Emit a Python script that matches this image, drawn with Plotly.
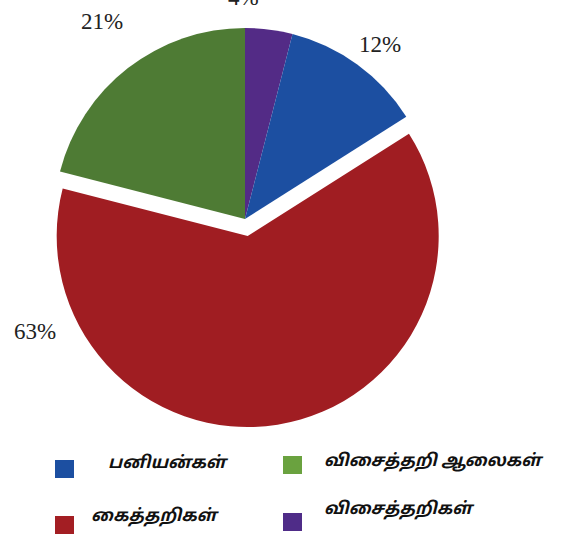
import plotly.graph_objects as go

# Share of textile units by type (percent)
labels = ["விசைத்தறிகள்", "பனியன்கள்", "கைத்தறிகள்", "விசைத்தறி ஆலைகள்"]
values = [4, 12, 63, 21]
slice_colors = ["#532B86", "#1C4FA1", "#A01D22", "#4E7B34"]
swatch_colors = ["#4F2C88", "#1C4FA1", "#A31E23", "#6AA23F"]
pulls = [0, 0, 0.09, 0]

W, H = 579, 534


def fx(x):
    return x / W


def fy(y):
    return 1 - y / H


fig = go.Figure(
    go.Pie(
        labels=labels,
        values=values,
        sort=False,
        direction="clockwise",
        rotation=0,
        pull=pulls,
        marker=dict(colors=slice_colors, line=dict(width=0)),
        textinfo="none",
        hoverinfo="label+percent",
        showlegend=False,
        domain=dict(x=[fx(36.8), fx(453.2)], y=[fy(427.2), fy(10.8)]),
    )
)

# percentage labels around the pie
label_pos = {0: (243, -3), 1: (380, 45), 2: (35, 331), 3: (102, 22)}
annotations = []
for i, v in enumerate(values):
    x, y = label_pos[i]
    annotations.append(
        dict(
            x=fx(x), y=fy(y), xref="paper", yref="paper",
            text=f"{v}%", showarrow=False,
            xanchor="center", yanchor="middle",
            font=dict(family="Liberation Serif, Times New Roman, serif", size=23, color="#222222"),
        )
    )

# legend: 2 x 2 grid of swatches with labels
legend_layout = {
    1: dict(sq=(55, 460), tx=(106, 463)),
    3: dict(sq=(283, 456), tx=(322, 461)),
    2: dict(sq=(55, 516), tx=(89, 516)),
    0: dict(sq=(283, 513), tx=(322, 509)),
}
shapes = []
for i, pos in legend_layout.items():
    sx, sy = pos["sq"]
    shapes.append(
        dict(
            type="rect", xref="paper", yref="paper",
            x0=fx(sx), x1=fx(sx + 19), y0=fy(sy + 18), y1=fy(sy),
            fillcolor=swatch_colors[i], line=dict(width=0),
        )
    )
    tx, ty = pos["tx"]
    annotations.append(
        dict(
            x=fx(tx), y=fy(ty), xref="paper", yref="paper",
            text=f"<i>{labels[i]}</i>", showarrow=False,
            xanchor="left", yanchor="middle",
            font=dict(family="Noto Sans Tamil, Lohit Tamil, Noto Sans, sans-serif",
                      size=17, color="#111111", style="italic", weight="bold"),
        )
    )

fig.update_layout(
    width=W, height=H,
    margin=dict(l=0, r=0, t=0, b=0),
    paper_bgcolor="white",
    plot_bgcolor="white",
    annotations=annotations,
    shapes=shapes,
)

fig.write_html("out.html")
